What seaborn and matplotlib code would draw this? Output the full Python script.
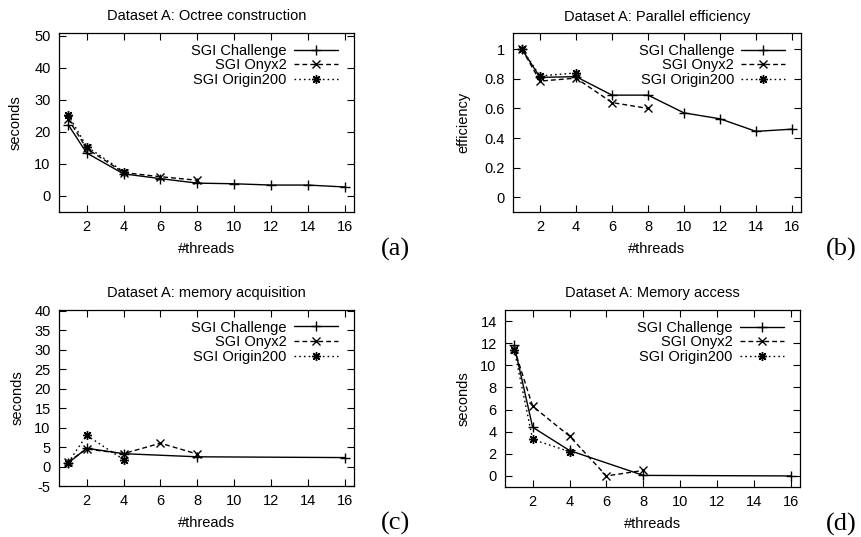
import matplotlib
matplotlib.use("Agg")
import matplotlib.pyplot as plt
import seaborn as sns

# Thread counts measured per machine
threads_full = [1, 2, 4, 6, 8, 10, 12, 14, 16]
threads_sparse = [1, 2, 4, 8, 16]
threads_onyx = [1, 2, 4, 6, 8]
threads_origin = [1, 2, 4]

machines = ["SGI Challenge", "SGI Onyx2", "SGI Origin200"]

# (a) Octree construction time, seconds
octree_challenge = [22.2, 13.4, 6.9, 5.4, 4.0, 3.8, 3.4, 3.4, 2.8]
octree_onyx = [24.0, 14.8, 7.3, 6.0, 4.9]
octree_origin = [25.3, 15.4, 7.6]

# (b) Parallel efficiency
eff_challenge = [1.0, 0.81, 0.815, 0.69, 0.69, 0.57, 0.53, 0.445, 0.46]
eff_onyx = [1.0, 0.785, 0.805, 0.64, 0.60]
eff_origin = [1.0, 0.82, 0.84]

# (c) Memory acquisition time, seconds
acq_challenge = [0.9, 4.7, 3.3, 2.5, 2.3]
acq_onyx = [1.2, 4.5, 3.3, 6.0, 3.2]
acq_origin = [1.0, 8.0, 1.8]

# (d) Memory access time, seconds
access_challenge = [11.8, 4.4, 2.3, 0.05, 0.0]
access_onyx = [11.5, 6.3, 3.6, 0.0, 0.5]
access_origin = [11.4, 3.3, 2.2]

sns.set_style("ticks")
plt.rcParams["font.family"] = ["Liberation Sans", "DejaVu Sans"]
plt.rcParams.update({
    "text.color": "black",
    "axes.labelcolor": "black",
    "xtick.color": "black",
    "ytick.color": "black",
    "axes.edgecolor": "black",
})

W, H = 862, 537
fig = plt.figure(figsize=(W / 100, H / 100), dpi=100)


def add_axes_px(left, top, right, bottom):
    return fig.add_axes([left / W, 1 - bottom / H, (right - left) / W, (bottom - top) / H])


line_styles = {
    "SGI Challenge": dict(linestyle="-", marker="+", markersize=7),
    "SGI Onyx2": dict(linestyle=(0, (3.5, 2.2)), marker="x", markersize=5.5),
    "SGI Origin200": dict(linestyle=(0, (1.2, 2.2)), marker=(8, 2, 0), markersize=6.5),
}

FS = 10.5

panels = [
    dict(rect=(59, 33, 354, 212), title="Dataset A: Octree construction", ylabel="seconds",
         series=[(threads_full, octree_challenge), (threads_onyx, octree_onyx),
                 (threads_origin, octree_origin)],
         ylim=(-5, 50.8), yticks=[0, 10, 20, 30, 40, 50], tag="(a)", ylab_x=-0.122),
    dict(rect=(513, 33, 801, 212), title="Dataset A: Parallel efficiency", ylabel="efficiency",
         series=[(threads_full, eff_challenge), (threads_onyx, eff_onyx),
                 (threads_origin, eff_origin)],
         ylim=(-0.1, 1.11), yticks=[0, 0.2, 0.4, 0.6, 0.8, 1.0], tag="(b)", ylab_x=-0.147),
    dict(rect=(59, 310, 354, 486), title="Dataset A: memory acquisition", ylabel="seconds",
         series=[(threads_sparse, acq_challenge), (threads_onyx, acq_onyx),
                 (threads_origin, acq_origin)],
         ylim=(-5, 40.2), yticks=list(range(-5, 41, 5)), tag="(c)", ylab_x=-0.118),
    dict(rect=(505, 310, 800, 487), title="Dataset A: Memory access", ylabel="seconds",
         series=[(threads_sparse, access_challenge), (threads_onyx, access_onyx),
                 (threads_origin, access_origin)],
         ylim=(-1, 15), yticks=list(range(0, 15, 2)), tag="(d)", ylab_x=-0.118),
]

for p in panels:
    ax = add_axes_px(*p["rect"])
    for name, (xs, ys) in zip(machines, p["series"]):
        sns.lineplot(x=xs, y=ys, ax=ax, color="black", linewidth=1.0,
                     markeredgewidth=1.0, markeredgecolor="black", markerfacecolor="black",
                     label=name, sort=False, **line_styles[name])
    ax.set_xlim(0.5, 16.5)
    ax.set_ylim(*p["ylim"])
    ax.set_xticks(range(2, 17, 2))
    ax.set_yticks(p["yticks"])
    ax.set_yticklabels(["{:g}".format(v) for v in p["yticks"]])
    ax.tick_params(direction="in", top=True, right=True, length=5, width=0.8,
                   labelsize=FS, pad=6, colors="black")
    for s in ax.spines.values():
        s.set_visible(True)
        s.set_linewidth(0.9)
        s.set_color("black")
    ax.set_title(p["title"], fontsize=FS, pad=9)
    ax.set_xlabel("#threads", fontsize=FS)
    ax.set_ylabel(p["ylabel"], fontsize=FS)
    ax.xaxis.set_label_coords(0.5, -0.17)
    ax.yaxis.set_label_coords(p["ylab_x"], 0.5)
    ax.legend(loc="upper right", bbox_to_anchor=(0.945, 0.94), frameon=False,
              markerfirst=False, fontsize=FS, handlelength=3.0, handletextpad=0.5,
              labelspacing=0.05, borderpad=0, borderaxespad=0)
    ax.text(1.14, -0.21, p["tag"], transform=ax.transAxes, ha="center", va="center",
            fontsize=19, family=["Liberation Serif", "DejaVu Serif"])

fig.savefig("out.png", dpi=100)
